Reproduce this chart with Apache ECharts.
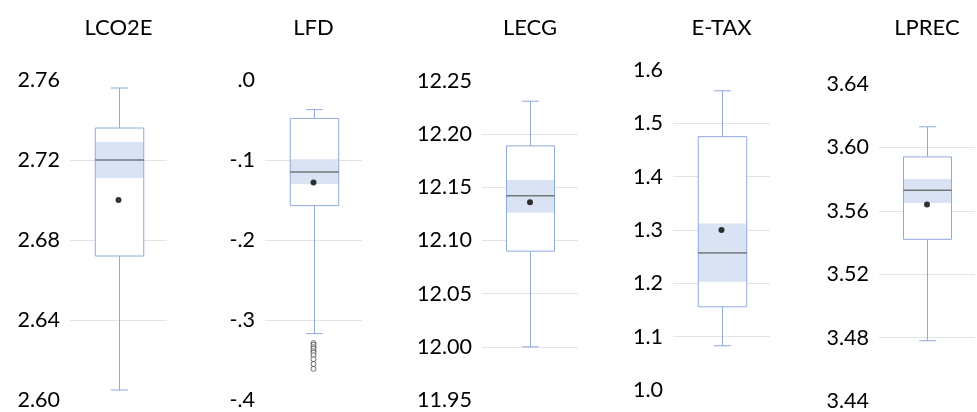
<!DOCTYPE html>
<html>
<head>
<meta charset="utf-8">
<script src="https://cdn.jsdelivr.net/npm/echarts@6/dist/echarts.min.js"></script>
<style>
html,body{margin:0;padding:0;background:#fff;}
#chart{width:977px;height:412px;}
</style>
</head>
<body>
<div id="chart"></div>
<script>
// ---- data ----
const categories  = ['LCO2E', 'LFD', 'LECG', 'E-TAX', 'LPREC'];
const whiskerLow  = [2.605, -0.317, 12.000, 1.083, 3.478];
const q1          = [2.672, -0.157, 12.090, 1.156, 3.542];
const median      = [2.720, -0.115, 12.142, 1.257, 3.573];
const q3          = [2.736, -0.048, 12.189, 1.475, 3.594];
const whiskerHigh = [2.756, -0.037, 12.231, 1.561, 3.613];
const notchLow    = [2.711, -0.130, 12.126, 1.203, 3.565];
const notchHigh   = [2.729, -0.099, 12.157, 1.312, 3.580];
const means       = [2.700, -0.128, 12.136, 1.300, 3.564];
const outliers    = [[], [-0.329, -0.331, -0.334, -0.336, -0.339, -0.341, -0.344, -0.349, -0.355, -0.361], [], [], []];
const axisMin     = [2.60, -0.4, 11.95, 1.0, 3.44];
const axisMax     = [2.76, 0.0, 12.25, 1.6, 3.64];
const axisStep    = [0.04, 0.1, 0.05, 0.1, 0.04];
const labelDigits = [2, 1, 2, 1, 2];

// ---- layout ----
const gridLeft   = [70, 265, 482, 673, 879];
const gridWidth  = [97, 97, 96, 97, 96];
const gridTop    = [80, 80, 81, 70, 84];
const gridHeight = [320, 320, 319, 320, 319];
const titleY = 27.5;
const FONT = 'Lato';
const BOX = '#8faadc', BAND = '#dae3f3', MED = '#404040', GRIDC = '#e3e3e3';

const grids = [], xAxes = [], yAxes = [], series = [];
categories.forEach((cat, i) => {
  grids.push({left: gridLeft[i], top: gridTop[i], width: gridWidth[i], height: gridHeight[i], containLabel: false});
  xAxes.push({
    type: 'category', gridIndex: i, data: [cat], position: 'top',
    axisLine: {show: false}, axisTick: {show: false}, splitLine: {show: false},
    axisLabel: {show: true, margin: gridTop[i] - titleY, verticalAlign: 'middle',
      fontFamily: FONT, fontSize: 22, color: '#000'}
  });
  const nTicks = Math.round((axisMax[i] - axisMin[i]) / axisStep[i]) + 1;
  const colors = [];
  for (let k = 0; k < nTicks; k++) colors.push(k === 0 || k === nTicks - 1 ? 'rgba(0,0,0,0)' : GRIDC);
  const d = labelDigits[i];
  yAxes.push({
    type: 'value', gridIndex: i, min: axisMin[i], max: axisMax[i], interval: axisStep[i],
    axisLine: {show: false}, axisTick: {show: false},
    splitLine: {show: true, lineStyle: {color: colors, width: 1}},
    axisLabel: {margin: 10, fontFamily: FONT, fontSize: 21.5, color: '#000',
      formatter: v => {
        let s = Number(v).toFixed(d);
        if (i === 1) s = s.replace(/^(-?)0\./, '$1.');
        return s;
      }}
  });
  series.push({
    type: 'custom', xAxisIndex: i, yAxisIndex: i,
    data: [[0, whiskerLow[i], q1[i], median[i], q3[i], whiskerHigh[i], notchLow[i], notchHigh[i]]],
    renderItem: (params, api) => {
      const x = api.value(0);
      const bw = api.size([1, 0])[0] * 0.5;
      const cw = bw * 0.35;
      const c = k => api.coord([x, api.value(k)]);
      const pLo = c(1), pQ1 = c(2), pMed = c(3), pQ3 = c(4), pHi = c(5), pNl = c(6), pNh = c(7);
      const cx = Math.round(pMed[0]) + 0.5;
      const L = cx - bw / 2, R = cx + bw / 2;
      const line = (x1, y1, x2, y2, col) => ({type: 'line', shape: {x1, y1, x2, y2}, style: {stroke: col, lineWidth: 1}});
      return {type: 'group', children: [
        {type: 'rect', shape: {x: L, y: pQ3[1], width: bw, height: pQ1[1] - pQ3[1]}, style: {fill: '#fff'}},
        {type: 'rect', shape: {x: L, y: pNh[1], width: bw, height: pNl[1] - pNh[1]}, style: {fill: BAND}},
        {type: 'rect', shape: {x: L, y: pQ3[1], width: bw, height: pQ1[1] - pQ3[1]}, style: {fill: 'none', stroke: BOX, lineWidth: 1}},
        line(L, pMed[1], R, pMed[1], MED),
        line(cx, pQ3[1], cx, pHi[1], BOX),
        line(cx, pQ1[1], cx, pLo[1], BOX),
        line(cx - cw / 2, pHi[1], cx + cw / 2, pHi[1], BOX),
        line(cx - cw / 2, pLo[1], cx + cw / 2, pLo[1], BOX)
      ]};
    },
    silent: true, z: 2
  });
  series.push({
    type: 'scatter', xAxisIndex: i, yAxisIndex: i, data: [[0, means[i]]],
    symbol: 'circle', symbolSize: 6, itemStyle: {color: '#000'}, silent: true, z: 3
  });
  if (outliers[i].length) {
    series.push({
      type: 'scatter', xAxisIndex: i, yAxisIndex: i, data: outliers[i].map(v => [0, v]),
      symbol: 'circle', symbolSize: 5,
      itemStyle: {color: '#fff', borderColor: '#222', borderWidth: 0.8}, silent: true, z: 3
    });
  }
});

const chart = echarts.init(document.getElementById('chart'), null, {renderer: 'canvas'});
chart.setOption({
  animation: false,
  backgroundColor: '#fff',
  grid: grids, xAxis: xAxes, yAxis: yAxes, series: series
});
</script>
</body>
</html>
